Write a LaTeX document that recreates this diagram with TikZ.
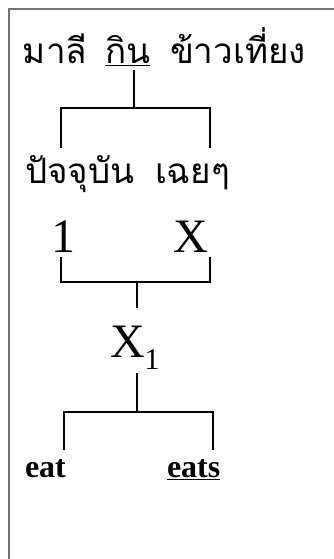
\documentclass[tikz,border=0pt]{standalone}
\usepackage{fontspec}
\setmainfont{Liberation Serif}
\newfontfamily\thaifont[Script=Thai]{Loma}
\begin{document}
\begin{tikzpicture}[x=1pt,y=-1pt,
  txt/.style={inner sep=0pt,outer sep=0pt,anchor=base west},
  thaitxt/.style={txt,font=\thaifont\fontsize{35}{42}\selectfont},
  bigtxt/.style={txt,font=\fontsize{48}{56}\selectfont},
  smalltxt/.style={txt,font=\bfseries\fontsize{32}{38}\selectfont},
  conn/.style={line width=1.3pt,black},
  frame/.style={line width=1.6pt,black!55}]
\useasboundingbox (0,0) rectangle (334,559);
% frame
\draw[frame] (9,570) -- (9,9) -- (345,9);
% top sentence
\node[thaitxt] (t1) at (23,64) {มาลี};
\node[thaitxt] (kin) at (105,64) {\underline{กิน}};
\node[thaitxt] (t3) at (170,64) {ข้าวเที่ยง};
% second row
\node[thaitxt] (pc) at (25,183) {ปัจจุบัน};
\node[thaitxt] (ch) at (155,183) {เฉยๆ};
% numbers
\node[bigtxt] (one) at (51,252) {1};
\node[bigtxt] (x) at (173,252) {X};
\node[bigtxt] (x1) at (110,357) {X\raisebox{-12pt}{\fontsize{30}{36}\selectfont 1}};
% english
\node[smalltxt] (eat) at (25,477) {eat};
\node[smalltxt] (eats) at (167,477) {\underline{eats}};
% coordinates
\coordinate (k) at (134,70);
\coordinate (j1) at (134,108);
\coordinate (a1) at (61,148);
\coordinate (a2) at (210,148);
\coordinate (b1) at (61,257);
\coordinate (b2) at (210,257);
\coordinate (j2) at (137,282);
\coordinate (s2) at (137,308);
\coordinate (s3) at (137,373);
\coordinate (j3) at (137,412);
\coordinate (c1) at (64,450);
\coordinate (c2) at (213,450);
% connectors
\draw[conn] (k) -- (j1);
\draw[conn] (a1) -- (a1 |- j1) -- (a2 |- j1) -- (a2);
\draw[conn] (b1) -- (b1 |- j2) -- (b2 |- j2) -- (b2);
\draw[conn] (j2) -- (s2);
\draw[conn] (s3) -- (j3);
\draw[conn] (c1) -- (c1 |- j3) -- (c2 |- j3) -- (c2);
\end{tikzpicture}
\end{document}
